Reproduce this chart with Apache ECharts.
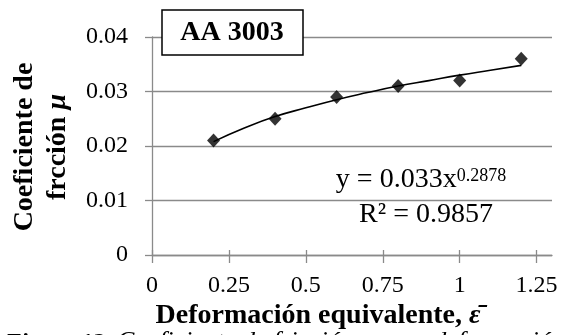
<!DOCTYPE html>
<html>
<head>
<meta charset="utf-8">
<script src="https://cdn.jsdelivr.net/npm/echarts@6/dist/echarts.min.js"></script>
<style>
html,body{margin:0;padding:0;background:#fff;}
#c{width:564px;height:335px;}
</style>
</head>
<body>
<div id="c"></div>
<script>
// Data
var strainX = [0.2, 0.4, 0.6, 0.8, 1.0, 1.2];
var frictionY = [0.021, 0.025, 0.029, 0.031, 0.032, 0.036];
// Power trendline values
var trendX = [0.2, 0.3, 0.4, 0.5, 0.6, 0.7, 0.8, 0.9, 1.0, 1.1, 1.2];
var trendY = [0.0208, 0.0233, 0.0254, 0.0270, 0.0285, 0.0298, 0.0310, 0.0320, 0.0330, 0.0339, 0.0348];
var xTicks = [0, 0.25, 0.5, 0.75, 1, 1.25];
var xTickLabels = ['0', '0.25', '0.5', '0.75', '1', '1.25'];
var yTickLabels = ['0', '0.01', '0.02', '0.03', '0.04'];

var serif = '"Liberation Serif", "Times New Roman", serif';
var gridGray = '#8a8a8a';

var chart = echarts.init(document.getElementById('c'), null, {renderer: 'canvas'});

var pts = strainX.map(function (x, i) { return [x, frictionY[i]]; });
var trend = trendX.map(function (x, i) { return [x, trendY[i]]; });

chart.setOption({
  animation: false,
  backgroundColor: '#fff',
  grid: {left: 152, right: 12, top: 37, bottom: 80, containLabel: false},
  xAxis: [{
    type: 'value', min: 0, max: 1.3, interval: 0.25,
    axisLine: {show: true, lineStyle: {color: gridGray, width: 1.3}},
    axisTick: {show: true, inside: false, length: 8, customValues: xTicks, lineStyle: {color: gridGray, width: 1.3}},
    axisLabel: {
      show: true, customValues: xTicks, margin: 19,
      fontFamily: serif, fontSize: 24, color: '#000',
      formatter: function (v) {
        var i = xTicks.indexOf(v);
        return i >= 0 ? xTickLabels[i] : '';
      }
    },
    splitLine: {show: false}
  }, {
    type: 'value', min: 0, max: 1.3, interval: 0.25, position: 'bottom', gridIndex: 0,
    axisLine: {show: false},
    axisTick: {show: true, inside: true, length: 5, customValues: xTicks, lineStyle: {color: gridGray, width: 1.3}},
    axisLabel: {show: false},
    splitLine: {show: false}
  }],
  yAxis: {
    type: 'value', min: 0, max: 0.04, interval: 0.01,
    axisLine: {show: true, lineStyle: {color: gridGray, width: 1.3}},
    axisTick: {show: true, inside: false, length: 7, lineStyle: {color: gridGray, width: 1.3}},
    axisLabel: {
      margin: 24, fontFamily: serif, fontSize: 24, color: '#000',
      formatter: function (v) {
        var i = Math.round(v / 0.01);
        return yTickLabels[i] !== undefined ? yTickLabels[i] : '';
      }
    },
    splitLine: {show: true, lineStyle: {color: gridGray, width: 1.3}}
  },
  series: [{
    type: 'line', data: trend, smooth: true, showSymbol: false, symbol: 'none',
    lineStyle: {color: '#000', width: 1.6}, z: 3
  }, {
    type: 'scatter', data: pts, symbol: 'diamond', symbolSize: [13, 14],
    itemStyle: {color: '#000'}, z: 4
  }],
  graphic: [
    {type: 'rect', shape: {x: 162, y: 10, width: 141, height: 45},
      style: {fill: '#fff', stroke: '#000', lineWidth: 1.5}, z: 10},
    {type: 'text', x: 232, y: 33, z: 11,
      style: {text: 'AA 3003', fontFamily: serif, fontWeight: 'bold', fontSize: 28, fill: '#000',
        align: 'center', verticalAlign: 'middle'}},
    {type: 'text', x: 421, y: 178, z: 11,
      style: {
        text: '{m|y = 0.033x}{s|0.2878}',
        align: 'center', verticalAlign: 'middle',
        rich: {
          m: {fontFamily: serif, fontSize: 28, fill: '#000', lineHeight: 32, verticalAlign: 'bottom'},
          s: {fontFamily: serif, fontSize: 18, fill: '#000', lineHeight: 18, verticalAlign: 'bottom', padding: [0, 0, 9, 0]}
        }
      }},
    {type: 'text', x: 426, y: 215, z: 11,
      style: {text: 'R² = 0.9857', fontFamily: serif, fontSize: 28, fill: '#000',
        align: 'center', verticalAlign: 'middle'}},
    {type: 'text', x: 41, y: 147, rotation: Math.PI / 2, z: 11,
      style: {
        text: '{b|Coeficiente de}\n{b|frcción }{i|μ}',
        align: 'center', verticalAlign: 'middle',
        rich: {
          b: {fontFamily: serif, fontWeight: 'bold', fontSize: 28, fill: '#000', lineHeight: 33, align: 'center'},
          i: {fontFamily: serif, fontWeight: 'bold', fontStyle: 'italic', fontSize: 28, fill: '#000', lineHeight: 33}
        }
      }},
    {type: 'text', x: 318, y: 316, z: 11,
      style: {
        text: '{b|Deformación equivalente, }{i|ε\u0304}',
        align: 'center', verticalAlign: 'middle',
        rich: {
          b: {fontFamily: serif, fontWeight: 'bold', fontSize: 28, fill: '#000', lineHeight: 30},
          i: {fontFamily: serif, fontWeight: 'bold', fontStyle: 'italic', fontSize: 28, fill: '#000', lineHeight: 30}
        }
      }},
    {type: 'text', x: 5, y: 329, z: 11,
      style: {
        text: '{b|Figura 12.}  {i|Coeficiente de fricción versus deformación}',
        align: 'left', verticalAlign: 'top',
        rich: {
          b: {fontFamily: serif, fontWeight: 'bold', fontStyle: 'italic', fontSize: 24, fill: '#000', lineHeight: 26, verticalAlign: 'bottom'},
          i: {fontFamily: serif, fontStyle: 'italic', fontSize: 26, fill: '#000', lineHeight: 26, verticalAlign: 'bottom'}
        }
      }}
  ]
});
</script>
</body>
</html>
